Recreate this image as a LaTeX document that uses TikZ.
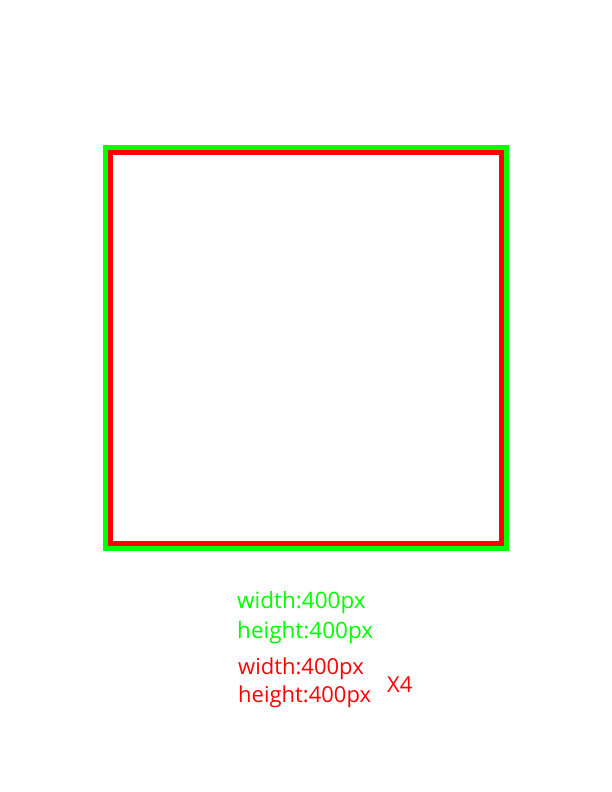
\documentclass[tikz,border=0pt]{standalone}
\usepackage{fontspec}
\setmainfont{Open Sans}
\definecolor{lime}{RGB}{0,255,0}
\definecolor{pure red}{RGB}{255,0,0}
\begin{document}
\begin{tikzpicture}[x=1pt,y=-1pt,
  lbl/.style={anchor=base west,inner sep=0pt,font=\fontsize{22.5}{26}\selectfont},
  rlbl/.style={lbl,font=\fontsize{22}{26}\selectfont}]
\useasboundingbox[fill=white] (0,0) rectangle (612,792);
\draw[lime,line width=6pt] (106,148) rectangle (506,548);
\draw[pure red,line width=5pt] (110.5,152.5) rectangle (501.5,543.5);
\node[lbl,text=lime] (gw) at (237,608) {width:400px};
\node[lbl,text=lime] (gh) at (237,638) {height:400px};
\node[rlbl,text=pure red] (rw) at (238,674) {width:400px};
\node[rlbl,text=pure red] (rh) at (238,702) {height:400px};
\node[rlbl,text=pure red] (x4) at (387,692) {X4};
\end{tikzpicture}
\end{document}
